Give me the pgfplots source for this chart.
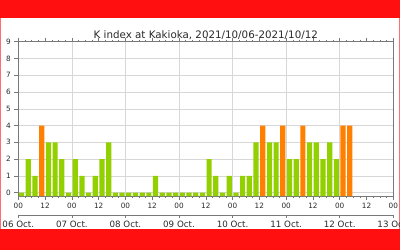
\documentclass[border=0pt]{standalone}
\usepackage{pgfplots}
\usepackage{pgfplotstable}
\pgfplotsset{compat=1.18}
\usepackage{fontspec}
\setmainfont{DejaVu Sans}
\definecolor{kgreen}{RGB}{146,208,0}
\definecolor{korange}{RGB}{255,128,0}
\definecolor{kred}{RGB}{255,15,15}
\definecolor{ktext}{RGB}{40,40,40}
\definecolor{kaxis}{RGB}{120,120,120}
\definecolor{kgrid}{RGB}{215,215,215}

\pgfplotstableread{
t k
1.5 0
4.5 2
7.5 1
13.5 3
16.5 3
19.5 2
22.5 0
25.5 2
28.5 1
31.5 0
34.5 1
37.5 2
40.5 3
43.5 0
46.5 0
49.5 0
52.5 0
55.5 0
58.5 0
61.5 1
64.5 0
67.5 0
70.5 0
73.5 0
76.5 0
79.5 0
82.5 0
85.5 2
88.5 1
91.5 0
94.5 1
97.5 0
100.5 1
103.5 1
106.5 3
112.5 3
115.5 3
121.5 2
124.5 2
130.5 3
133.5 3
136.5 2
139.5 3
142.5 2
}\greendata

\pgfplotstableread{
t k
10.5 4
109.5 4
118.5 4
127.5 4
145.5 4
148.5 4
}\orangedata

\begin{document}
\begin{tikzpicture}[x=1pt,y=1pt]
\path[use as bounding box] (0,0) rectangle (400,250);
\fill[kred] (0,231.7) rectangle (400,250);
\fill[kred] (0,0) rectangle (400,21);
\draw[kred!60,line width=1pt] (0.5,21) -- (0.5,231.7);
\draw[kred!60,line width=1pt] (399.5,21) -- (399.5,231.7);

\begin{axis}[
  at={(18.3pt,54pt)}, anchor=south west,
  scale only axis, width=375pt, height=154.3pt,
  xmin=0, xmax=168, ymin=0, ymax=9.2,
  axis line style={kaxis, line width=0.6pt},
  ytick={0.2,1.2,2.2,3.2,4.2,5.2,6.2,7.2,8.2,9.2},
  yticklabels={0,1,2,3,4,5,6,7,8,9},
  xtick={0,24,48,72,96,120,144,168},
  xticklabels={00,00,00,00,00,00,00,00},
  extra x ticks={12,36,60,84,108,132,156},
  extra x tick labels={12,12,12,12,12,12,12},
  extra x tick style={xmajorgrids=false},
  minor xtick={3,6,9,15,18,21,27,30,33,39,42,45,51,54,57,63,66,69,75,78,81,87,90,93,99,102,105,111,114,117,123,126,129,135,138,141,147,150,153,159,162,165},
  xtick pos=both, ytick pos=left,
  tick align=outside,
  major tick length=4pt, minor tick length=2pt,
  tick style={kaxis, line width=0.5pt},
  xmajorgrids, ymajorgrids,
  major grid style={kgrid, line width=0.5pt},
  ticklabel style={font=\fontsize{7.3}{8}\selectfont, text=ktext},
  bar width=5.2pt,
]
\addplot[ybar, fill=kgreen, draw=none] table[x=t, y expr=\thisrow{k}+0.2] {\greendata};
\addplot[ybar, fill=korange, draw=none] table[x=t, y expr=\thisrow{k}+0.2] {\orangedata};
\end{axis}

\begin{axis}[
  at={(18.3pt,35pt)}, anchor=south west,
  scale only axis, width=375pt, height=1pt,
  xmin=0, xmax=168, ymin=0, ymax=1,
  axis x line*=bottom, axis y line=none,
  axis line style={kaxis, line width=0.6pt},
  xtick={0,24,48,72,96,120,144,168},
  xticklabels={06 Oct.,07 Oct.,08 Oct.,09 Oct.,10 Oct.,11 Oct.,12 Oct.,13 Oct.},
  tick align=outside, major tick length=3pt,
  tick style={kaxis, line width=0.5pt},
  ticklabel style={font=\fontsize{8.7}{10}\selectfont, text=ktext},
]
\addplot[draw=none] coordinates {(0,0) (168,1)};
\end{axis}

\node[anchor=base, text=ktext, font=\fontsize{10.3}{12}\selectfont] at (205.8,211.7) {K index at Kakioka, 2021/10/06-2021/10/12};
\end{tikzpicture}
\end{document}
